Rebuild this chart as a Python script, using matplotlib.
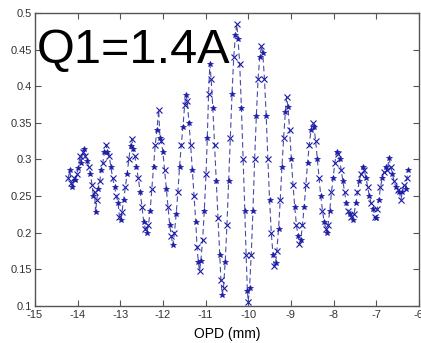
import matplotlib
matplotlib.use('Agg')
import matplotlib.pyplot as plt

plt.rcParams['font.family'] = ['Liberation Sans', 'DejaVu Sans']

# OPD positions (mm) and detector signal
opd = [
    -14.22, -14.18, -14.15, -14.12, -14.08, -14.05, -14.02, -13.98, -13.95, -13.92,
    -13.88, -13.85, -13.82, -13.78, -13.74, -13.70, -13.66, -13.63, -13.60, -13.58,
    -13.55, -13.52, -13.48, -13.45, -13.41, -13.37, -13.33, -13.30, -13.26, -13.22,
    -13.18, -13.13, -13.09, -13.05, -13.02, -12.99, -12.96, -12.92, -12.88, -12.84,
    -12.80, -12.76, -12.73, -12.70, -12.66, -12.62, -12.58, -12.53, -12.49, -12.45,
    -12.41, -12.38, -12.34, -12.30, -12.26, -12.22, -12.18, -12.14, -12.10, -12.07,
    -12.04, -12.00, -11.96, -11.92, -11.88, -11.84, -11.80, -11.77, -11.73, -11.69,
    -11.65, -11.61, -11.57, -11.53, -11.49, -11.46, -11.43, -11.39, -11.35, -11.31,
    -11.27, -11.23, -11.20, -11.17, -11.14, -11.11, -11.07, -11.03, -10.99, -10.96,
    -10.93, -10.90, -10.87, -10.83, -10.79, -10.75, -10.71, -10.67, -10.64, -10.61,
    -10.58, -10.54, -10.50, -10.46, -10.42, -10.38, -10.34, -10.30, -10.27, -10.24,
    -10.20, -10.16, -10.12, -10.08, -10.05, -10.02, -10.00, -9.97, -9.93, -9.89,
    -9.85, -9.81, -9.77, -9.73, -9.69, -9.66, -9.62, -9.58, -9.54, -9.50,
    -9.46, -9.42, -9.39, -9.36, -9.33, -9.29, -9.25, -9.21, -9.17, -9.13,
    -9.10, -9.07, -9.03, -8.99, -8.95, -8.91, -8.87, -8.83, -8.80, -8.77,
    -8.73, -8.69, -8.65, -8.61, -8.57, -8.53, -8.49, -8.46, -8.42, -8.38,
    -8.34, -8.30, -8.26, -8.22, -8.18, -8.16, -8.13, -8.09, -8.05, -8.01,
    -7.97, -7.93, -7.90, -7.86, -7.82, -7.78, -7.74, -7.70, -7.66, -7.62,
    -7.58, -7.55, -7.52, -7.48, -7.44, -7.40, -7.36, -7.32, -7.28, -7.24,
    -7.20, -7.16, -7.12, -7.08, -7.04, -7.01, -6.98, -6.94, -6.90, -6.86,
    -6.82, -6.78, -6.74, -6.70, -6.66, -6.62, -6.58, -6.54, -6.50, -6.46,
    -6.42, -6.39, -6.35, -6.31, -6.28, -6.25,
]
signal = [
    0.275, 0.285, 0.268, 0.262, 0.275, 0.272, 0.280, 0.288, 0.305, 0.295,
    0.310, 0.315, 0.305, 0.298, 0.290, 0.280, 0.265, 0.250, 0.255, 0.228,
    0.245, 0.260, 0.270, 0.285, 0.295, 0.310, 0.320, 0.310, 0.305, 0.290,
    0.275, 0.262, 0.250, 0.240, 0.222, 0.217, 0.228, 0.245, 0.262, 0.280,
    0.300, 0.318, 0.328, 0.315, 0.305, 0.290, 0.275, 0.255, 0.235, 0.215,
    0.205, 0.200, 0.210, 0.230, 0.260, 0.290, 0.320, 0.340, 0.368, 0.330,
    0.325, 0.310, 0.285, 0.260, 0.235, 0.210, 0.195, 0.183, 0.200, 0.225,
    0.255, 0.290, 0.320, 0.345, 0.375, 0.388, 0.380, 0.350, 0.320, 0.285,
    0.250, 0.215, 0.180, 0.160, 0.148, 0.162, 0.190, 0.230, 0.280, 0.330,
    0.390, 0.430, 0.410, 0.370, 0.320, 0.270, 0.220, 0.170, 0.135, 0.115,
    0.125, 0.160, 0.210, 0.270, 0.330, 0.390, 0.440, 0.470, 0.485, 0.465,
    0.430, 0.370, 0.300, 0.230, 0.170, 0.120, 0.106, 0.125, 0.170, 0.230,
    0.300, 0.360, 0.410, 0.440, 0.455, 0.445, 0.410, 0.360, 0.300, 0.245,
    0.200, 0.170, 0.155, 0.158, 0.175, 0.205, 0.245, 0.290, 0.330, 0.365,
    0.385, 0.372, 0.340, 0.300, 0.265, 0.235, 0.210, 0.195, 0.185, 0.190,
    0.210, 0.235, 0.265, 0.295, 0.320, 0.340, 0.350, 0.345, 0.325, 0.300,
    0.275, 0.250, 0.230, 0.215, 0.205, 0.200, 0.210, 0.230, 0.255, 0.275,
    0.295, 0.310, 0.308, 0.300, 0.285, 0.270, 0.255, 0.240, 0.230, 0.225,
    0.222, 0.218, 0.225, 0.240, 0.255, 0.270, 0.280, 0.290, 0.285, 0.275,
    0.262, 0.250, 0.240, 0.232, 0.222, 0.220, 0.232, 0.245, 0.262, 0.275,
    0.283, 0.290, 0.285, 0.302, 0.290, 0.280, 0.270, 0.262, 0.258, 0.255,
    0.245, 0.255, 0.265, 0.260, 0.275, 0.285,
]

x_ticks = [-15, -14, -13, -12, -11, -10, -9, -8, -7, -6]
y_ticks = [0.1, 0.15, 0.2, 0.25, 0.3, 0.35, 0.4, 0.45, 0.5]
y_labels = ['0.1', '0.15', '0.2', '0.25', '0.3', '0.35', '0.4', '0.45', '0.5']

blue = '#1c1ca8'

fig = plt.figure(figsize=(4.21, 3.43), dpi=100)
ax = fig.add_axes([0.083, 0.108, 0.912, 0.854])

# dashed trace with alternating x / * markers
ax.plot(opd, signal, linestyle=(0, (5, 3)), color='#4a4aa8', linewidth=0.8)
ax.plot(opd[::2], signal[::2], linestyle='none', marker='x', markersize=3.8,
        color=blue, markeredgewidth=0.8)
ax.plot(opd[1::2], signal[1::2], linestyle='none', marker='*', markersize=4.2,
        color=blue, markeredgewidth=0.5)

ax.set_xlim(-15, -6)
ax.set_ylim(0.1, 0.5)
ax.set_xticks(x_ticks)
ax.set_xticklabels([str(t) for t in x_ticks])
ax.set_yticks(y_ticks)
ax.set_yticklabels(y_labels)

ax.tick_params(direction='in', length=4, width=0.8, top=True, right=True,
               labelsize=8, labelcolor='#333333', color='#555555', pad=2)
ax.tick_params(axis='x', pad=3)
for s in ax.spines.values():
    s.set_color('#555555')
    s.set_linewidth(1.0)

ax.set_xlabel('OPD (mm)', fontsize=10, labelpad=5)

ax.text(0.005, 0.83, 'Q1=1.4A', transform=ax.transAxes, fontsize=35,
        ha='left', va='baseline', color='black')

plt.savefig('out.png', dpi=100)
plt.close()
